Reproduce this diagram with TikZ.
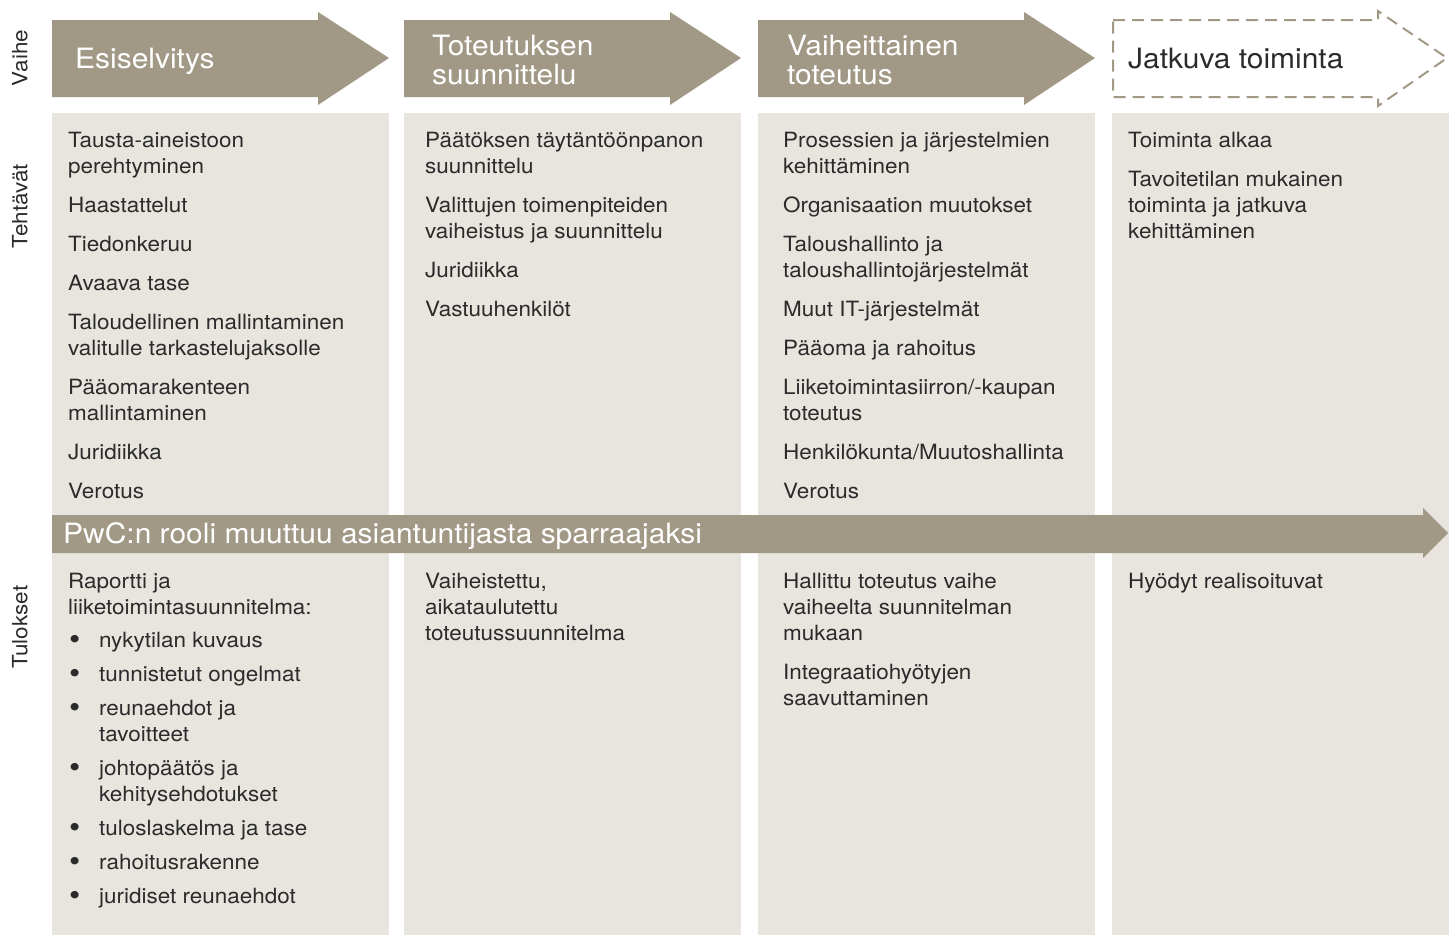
\documentclass[tikz,border=0pt]{standalone}
\usepackage{fontspec}
\setmainfont{TeX Gyre Heros}[FakeStretch=1.07]
\usetikzlibrary{positioning}
\definecolor{taupe}{HTML}{A29886}
\definecolor{sand}{HTML}{E8E5DF}
\definecolor{ink}{HTML}{2B2B2B}
\newcommand{\nxt}{\\[13pt]}
\newcommand{\bul}{\makebox[31pt][l]{\hspace{1pt}\raisebox{-2.5pt}{\fontsize{30}{26}\selectfont\textbullet}}}
\newcommand{\hng}{\hspace*{31pt}}

\begin{document}
\begin{tikzpicture}[
    x=1pt, y=-1pt,
    headtext/.style={anchor=north west, inner sep=0, align=left, text=white,
      font=\fontsize{28}{29}\selectfont, execute at begin node=\strut},
    tasks/.style={anchor=north west, inner sep=0, align=left, text=ink,
      font=\fontsize{21}{26}\selectfont, execute at begin node=\strut},
    rowlabel/.style={rotate=90, inner sep=0, text=ink,
      font=\fontsize{21}{26}\selectfont},
    ]
    \useasboundingbox (0,0) rectangle (1456,935);

    \foreach \x in {52, 404, 758, 1112} {
        \fill [sand] (\x,113) rectangle ++(337,822);
    }
    \foreach \x in {52, 404, 758} {
        \fill [taupe] (\x,20) -- ++(266,0) -- ++(0,-8) -- ++(71,46)
            -- ++(-71,47) -- ++(0,-8) -- ++(-266,0) -- cycle;
    }
    \draw [taupe, line width=2pt, dash pattern=on 12pt off 7pt]
        (1113,20) -- (1378,20) -- (1378,11) -- (1447,58) -- (1378,106)
        -- (1378,97) -- (1113,97) -- cycle;
    \fill [taupe] (52,515) -- (1423,515) -- (1423,508) -- (1448,533)
        -- (1423,558) -- (1423,553) -- (52,553) -- cycle;

    \node [rowlabel] (vaihe) at (20,58) {Vaihe};
    \node [rowlabel] (tehtavat) at (20,206) {Tehtävät};
    \node [rowlabel] (tulokset) at (20,627) {Tulokset};

    \node [headtext] (phase1) at (75,47.7) {Esiselvitys};
    \node [headtext] (phase2) at (432,34.7) {Toteutuksen\\suunnittelu};
    \node [headtext] (phase3) at (787,34.7) {Vaiheittainen\\toteutus};
    \node [headtext, text=ink] (phase4) at (1128,47.7) {Jatkuva toiminta};

    \node [tasks] (tasks1) at (68,131.8) {Tausta-aineistoon\\perehtyminen\nxt
        Haastattelut\nxt Tiedonkeruu\nxt Avaava tase\nxt
        Taloudellinen mallintaminen\\valitulle tarkastelujaksolle\nxt
        Pääomarakenteen\\mallintaminen\nxt Juridiikka\nxt Verotus};
    \node [tasks] (tasks2) at (425,131.8) {Päätöksen täytäntöönpanon\\suunnittelu\nxt
        Valittujen toimenpiteiden\\vaiheistus ja suunnittelu\nxt
        Juridiikka\nxt Vastuuhenkilöt};
    \node [tasks] (tasks3) at (783,131.8) {Prosessien ja järjestelmien\\kehittäminen\nxt
        Organisaation muutokset\nxt
        Taloushallinto ja\\taloushallintojärjestelmät\nxt
        Muut IT-järjestelmät\nxt Pääoma ja rahoitus\nxt
        Liiketoimintasiirron/-kaupan\\toteutus\nxt
        Henkilökunta/Muutoshallinta\nxt Verotus};
    \node [tasks] (tasks4) at (1128,131.8) {Toiminta alkaa\nxt
        Tavoitetilan mukainen\\toiminta ja jatkuva\\kehittäminen};

    \node [anchor=base west, inner sep=0, text=white,
        font=\fontsize{28}{28}\selectfont] (rooli) at (63,543)
        {PwC:n rooli muuttuu asiantuntijasta sparraajaksi};

    \node [tasks] (res1) at (68,572.8) {Raportti ja\\liiketoimintasuunnitelma:\\[7pt]
        \bul nykytilan kuvaus\\[8pt]
        \bul tunnistetut ongelmat\\[8pt]
        \bul reunaehdot ja\\\hng tavoitteet\\[8pt]
        \bul johtopäätös ja\\\hng kehitysehdotukset\\[8pt]
        \bul tuloslaskelma ja tase\\[8pt]
        \bul rahoitusrakenne\\[8pt]
        \bul juridiset reunaehdot};
    \node [tasks] (res2) at (425,572.8) {Vaiheistettu,\\aikataulutettu\\toteutussuunnitelma};
    \node [tasks] (res3) at (783,572.8) {Hallittu toteutus vaihe\\vaiheelta suunnitelman\\mukaan\nxt
        Integraatiohyötyjen\\saavuttaminen};
    \node [tasks] (res4) at (1128,569.8) {Hyödyt realisoituvat};
\end{tikzpicture}
\end{document}
